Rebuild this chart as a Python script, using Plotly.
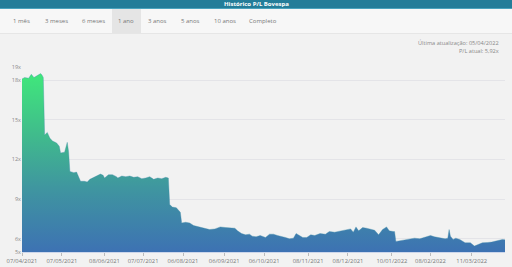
import plotly.graph_objects as go

dates = [
    "2021-04-07", "2021-04-09", "2021-04-12", "2021-04-14", "2021-04-16", "2021-04-18",
    "2021-04-21", "2021-04-22", "2021-04-23", "2021-04-24", "2021-04-26", "2021-04-28",
    "2021-04-30", "2021-05-03", "2021-05-05", "2021-05-06", "2021-05-09", "2021-05-11",
    "2021-05-12", "2021-05-13", "2021-05-16", "2021-05-18", "2021-05-19", "2021-05-21",
    "2021-05-24", "2021-05-26", "2021-05-28", "2021-06-01", "2021-06-05", "2021-06-07",
    "2021-06-08", "2021-06-11", "2021-06-14", "2021-06-17", "2021-06-18", "2021-06-21",
    "2021-06-24", "2021-06-27", "2021-06-30", "2021-07-03", "2021-07-06", "2021-07-09",
    "2021-07-12", "2021-07-15", "2021-07-18", "2021-07-21", "2021-07-24", "2021-07-26",
    "2021-07-27", "2021-07-29", "2021-08-01", "2021-08-04", "2021-08-05", "2021-08-08",
    "2021-08-11", "2021-08-14", "2021-08-16", "2021-08-19", "2021-08-23", "2021-08-26",
    "2021-08-30", "2021-09-03", "2021-09-07", "2021-09-10", "2021-09-14", "2021-09-16",
    "2021-09-19", "2021-09-22", "2021-09-25", "2021-09-27", "2021-09-30", "2021-10-03",
    "2021-10-07", "2021-10-10", "2021-10-13", "2021-10-16", "2021-10-19", "2021-10-22",
    "2021-10-25", "2021-10-28", "2021-10-30", "2021-11-01", "2021-11-04", "2021-11-07",
    "2021-11-10", "2021-11-13", "2021-11-17", "2021-11-21", "2021-11-24", "2021-11-28",
    "2021-12-02", "2021-12-06", "2021-12-10", "2021-12-12", "2021-12-14", "2021-12-16",
    "2021-12-19", "2021-12-22", "2021-12-25", "2021-12-28", "2021-12-31", "2022-01-03",
    "2022-01-06", "2022-01-08", "2022-01-11", "2022-01-12", "2022-01-13", "2022-01-16",
    "2022-01-20", "2022-01-24", "2022-01-27", "2022-01-31", "2022-02-04", "2022-02-08",
    "2022-02-11", "2022-02-15", "2022-02-19", "2022-02-21", "2022-02-22", "2022-02-23",
    "2022-02-25", "2022-02-27", "2022-03-02", "2022-03-06", "2022-03-10", "2022-03-13",
    "2022-03-16", "2022-03-19", "2022-03-23", "2022-03-26", "2022-03-30", "2022-04-03",
    "2022-04-05",
]
pl_values = [
    18.1, 18.2, 18.15, 18.45, 18.2, 18.3,
    18.5, 18.4, 18.2, 13.85, 14.05, 13.6,
    13.4, 13.25, 13.0, 12.5, 12.55, 13.3,
    12.6, 11.1, 11.0, 11.05, 10.8, 10.35,
    10.35, 10.3, 10.5, 10.7, 10.9, 10.8,
    10.6, 10.85, 10.85, 10.7, 10.6, 10.75,
    10.7, 10.75, 10.65, 10.7, 10.55, 10.6,
    10.7, 10.5, 10.6, 10.55, 10.65, 10.6,
    8.6, 8.4, 8.35, 8.0, 7.2, 7.25,
    7.2, 7.0, 6.95, 6.85, 6.75, 6.7,
    6.75, 6.9, 6.85, 6.85, 6.8, 6.6,
    6.4, 6.3, 6.35, 6.2, 6.15, 6.25,
    6.1, 6.35, 6.35, 6.25, 6.2, 6.1,
    6.0, 6.05, 6.4, 6.3, 6.1, 6.1,
    6.3, 6.25, 6.4, 6.35, 6.55, 6.5,
    6.6, 6.65, 6.75, 6.5, 6.9, 6.6,
    6.85, 6.8, 6.75, 6.65, 6.3, 6.7,
    6.9, 6.6, 6.55, 6.55, 5.8, 5.85,
    5.9, 5.98, 6.05, 6.0, 6.1, 6.25,
    6.15, 6.1, 6.0, 6.05, 6.7, 6.2,
    5.95, 6.05, 5.95, 5.7, 5.7, 5.45,
    5.6, 5.7, 5.72, 5.75, 5.85, 5.95,
    5.92,
]

tick_dates = ["2021-04-07", "2021-05-07", "2021-06-08", "2021-07-07", "2021-08-06",
              "2021-09-06", "2021-10-06", "2021-11-08", "2021-12-08", "2022-01-10",
              "2022-02-08", "2022-03-11"]
tick_labels = ["07/04/2021", "07/05/2021", "08/06/2021", "07/07/2021", "06/08/2021",
               "06/09/2021", "06/10/2021", "08/11/2021", "08/12/2021", "10/01/2022",
               "08/02/2022", "11/03/2022"]
y_ticks = [5, 6, 9, 12, 15, 18, 19]
y_labels = ["5x", "6x", "9x", "12x", "15x", "18x", "19x"]

title = "Histórico P/L Bovespa"
buttons = ["1 mês", "3 meses", "6 meses", "1 ano", "3 anos", "5 anos", "10 anos", "Completo"]
button_x = [21, 56, 93, 126, 157, 190, 225, 263]
info1 = "Última atualização: 05/04/2022"
info2 = "P/L atual: 5,92x"

W, H = 512, 267
L, R, T, B = 22, 7, 67, 15
pw, ph = W - L - R, H - T - B

def px(x):
    return (x - L) / pw

def py(y):
    return (H - B - y) / ph

FONT = "Open Sans"

fig = go.Figure()
fig.add_trace(go.Scatter(
    x=dates, y=pl_values, mode="lines", fill="tozeroy",
    line=dict(color="rgba(64,140,170,0.5)", width=0.7),
    fillgradient=dict(type="vertical", start=5, stop=18.6,
                      colorscale=[[0, "#3d72b3"], [0.35, "#3f95a0"], [0.65, "#40bb8c"], [1, "#40e87b"]]),
    hoverinfo="x+y",
))

shapes = [
    dict(type="rect", xref="paper", yref="paper", x0=px(0), x1=px(W), y0=py(33), y1=py(8),
         fillcolor="#f7f7f7", line_width=0, layer="below"),
    dict(type="rect", xref="paper", yref="paper", x0=px(112), x1=px(141), y0=py(33), y1=py(9),
         fillcolor="#e5e5e5", line_width=0, layer="below"),
    dict(type="line", xref="paper", yref="paper", x0=px(0), x1=px(W), y0=py(33.5), y1=py(33.5),
         line=dict(color="#e6e6e6", width=1)),
    dict(type="rect", xref="paper", yref="paper", x0=px(0), x1=px(W), y0=py(8.5), y1=py(0),
         fillcolor="#237d99", line_width=0),
    dict(type="line", xref="paper", yref="paper", x0=px(0), x1=px(W), y0=py(8.5), y1=py(8.5),
         line=dict(color="#4aa3bd", width=1)),
]

annotations = [
    dict(text=f"<b>{title}</b>", xref="paper", yref="paper", x=px(256), y=py(4.3),
         showarrow=False, font=dict(family=FONT, size=6, color="white"),
         xanchor="center", yanchor="middle"),
    dict(text=info1, xref="paper", yref="paper", x=px(501), y=py(43), showarrow=False,
         font=dict(family=FONT, size=5.6, color="#888"), xanchor="right", yanchor="middle"),
    dict(text=info2, xref="paper", yref="paper", x=px(501), y=py(51), showarrow=False,
         font=dict(family=FONT, size=5.6, color="#888"), xanchor="right", yanchor="middle"),
]
for b, bx in zip(buttons, button_x):
    annotations.append(dict(text=b, xref="paper", yref="paper", x=px(bx), y=py(21),
                            showarrow=False, font=dict(family=FONT, size=6, color="#777"),
                            xanchor="center", yanchor="middle"))

fig.update_layout(
    width=W, height=H,
    margin=dict(l=L, r=R, t=T, b=B, autoexpand=False),
    paper_bgcolor="#f2f2f2", plot_bgcolor="#f2f2f2",
    showlegend=False,
    shapes=shapes, annotations=annotations,
    xaxis=dict(type="date", range=["2021-04-07", "2022-04-05"],
               tickvals=tick_dates, ticktext=tick_labels, tickangle=0, automargin=False,
               tickfont=dict(family=FONT, size=5.8, color="#777"),
               ticks="outside", ticklen=3, tickcolor="#bbb",
               showgrid=False, showline=True, linecolor="#ccd6eb", zeroline=False),
    yaxis=dict(range=[5, 19], tickvals=y_ticks, ticktext=y_labels, automargin=False,
               tickfont=dict(family=FONT, size=5.5, color="#888"),
               showgrid=True, gridcolor="#e4e4e8", gridwidth=1, zeroline=False,
               ticks="", ticklen=0),
)

fig.write_html("out.html")
